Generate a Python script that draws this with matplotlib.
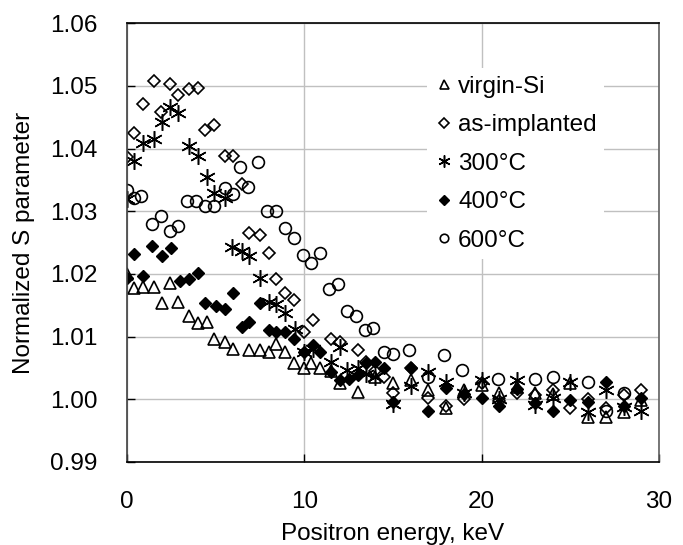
import matplotlib
matplotlib.use("Agg")
import matplotlib.pyplot as plt
from matplotlib.ticker import MultipleLocator, FormatStrFormatter

plt.rcParams['font.family'] = ['Liberation Sans', 'DejaVu Sans']

# ---- data ----
virgin_E = [0, 0.4, 0.9, 1.5, 2.0, 2.4, 2.9, 3.5, 4.0, 4.5, 4.9, 5.5, 6.0, 6.9, 7.5, 8.0,
            8.4, 8.9, 9.4, 10.0, 10.4, 10.9, 11.5, 12.0, 13.0, 14.0, 15.0, 16.0, 17.0, 18.0,
            19.0, 20.0, 21.0, 22.0, 23.0, 24.0, 25.0, 26.0, 27.0, 28.0, 29.0]
virgin_S = [1.0200, 1.0177, 1.0180, 1.0180, 1.0153, 1.0186, 1.0156, 1.0133, 1.0122, 1.0124,
            1.0096, 1.0092, 1.0081, 1.0078, 1.0078, 1.0076, 1.0089, 1.0076, 1.0058, 1.0050,
            1.0058, 1.0050, 1.0045, 1.0026, 1.0011, 1.0036, 1.0026, 1.0031, 1.0015, 0.9986,
            1.0015, 1.0023, 1.0010, 1.0020, 1.0010, 1.0008, 1.0026, 0.9972, 0.9972, 0.9980,
            0.9999]

asimp_E = [0, 0.4, 0.9, 1.5, 1.9, 2.4, 2.9, 3.5, 4.0, 4.4, 4.9, 5.5, 6.0, 6.5, 6.9, 7.5,
           8.0, 8.4, 8.9, 9.4, 10.0, 10.5, 11.5, 12.0, 13.0, 13.5, 14.0, 14.5, 15.0, 16.0,
           17.0, 18.0, 19.0, 20.0, 21.0, 22.0, 23.0, 24.0, 25.0, 26.0, 27.0, 28.0, 29.0]
asimp_S = [1.0386, 1.0425, 1.0472, 1.0508, 1.0458, 1.0503, 1.0486, 1.0495, 1.0497, 1.0430,
           1.0438, 1.0388, 1.0388, 1.0343, 1.0266, 1.0263, 1.0234, 1.0192, 1.0170, 1.0159,
           1.0107, 1.0126, 1.0096, 1.0091, 1.0078, 1.0060, 1.0045, 1.0035, 1.0010, 1.0050,
           1.0002, 0.9989, 1.0000, 1.0026, 0.9997, 1.0010, 1.0007, 1.0015, 0.9986, 1.0000,
           0.9986, 1.0007, 1.0015]

t300_E = [0, 0.4, 0.9, 1.5, 2.0, 2.4, 2.9, 3.5, 4.0, 4.5, 4.9, 5.5, 5.9, 6.5, 6.9, 7.5,
          8.0, 8.4, 8.9, 9.5, 10.0, 10.5, 11.5, 12.0, 12.4, 13.0, 13.5, 14.0, 15.0, 16.0,
          17.0, 18.0, 19.0, 20.0, 21.0, 22.0, 23.0, 24.0, 25.0, 26.0, 27.0, 28.0, 29.0]
t300_S = [1.0320, 1.0380, 1.0409, 1.0415, 1.0443, 1.0466, 1.0457, 1.0404, 1.0388, 1.0355,
          1.0330, 1.0322, 1.0243, 1.0236, 1.0228, 1.0193, 1.0156, 1.0152, 1.0138, 1.0112,
          1.0075, 1.0080, 1.0060, 1.0084, 1.0047, 1.0050, 1.0040, 1.0035, 0.9992, 1.0022,
          1.0043, 1.0027, 1.0010, 1.0031, 1.0000, 1.0031, 0.9991, 1.0002, 1.0028, 0.9980,
          1.0015, 0.9988, 0.9981]

t400_E = [0, 0.4, 0.9, 1.4, 2.0, 2.5, 3.0, 3.5, 4.0, 4.4, 5.0, 5.5, 6.0, 6.5, 6.9, 7.5,
          8.0, 8.4, 8.9, 9.4, 10.0, 10.5, 10.9, 11.5, 12.0, 12.5, 13.0, 13.5, 14.0, 14.5,
          15.0, 16.0, 17.0, 18.0, 19.0, 20.0, 21.0, 22.0, 23.0, 24.0, 25.0, 26.0, 27.0,
          28.0, 29.0]
t400_S = [1.0193, 1.0232, 1.0197, 1.0245, 1.0229, 1.0242, 1.0189, 1.0192, 1.0202, 1.0153,
          1.0149, 1.0144, 1.0169, 1.0116, 1.0124, 1.0153, 1.0110, 1.0108, 1.0108, 1.0096,
          1.0076, 1.0087, 1.0076, 1.0044, 1.0031, 1.0032, 1.0039, 1.0058, 1.0059, 1.0050,
          0.9996, 1.0050, 0.9981, 1.0018, 1.0008, 1.0002, 0.9989, 1.0016, 0.9994, 0.9981,
          0.9999, 0.9996, 1.0028, 0.9989, 1.0002]

t600_E = [0, 0.4, 0.8, 1.4, 1.9, 2.4, 2.9, 3.4, 3.9, 4.4, 4.9, 5.5, 6.0, 6.4, 6.8, 7.4,
          7.9, 8.4, 8.9, 9.4, 9.9, 10.4, 10.9, 11.4, 11.9, 12.4, 12.9, 13.4, 13.9, 14.5,
          15.0, 15.9, 17.0, 17.9, 18.9, 20.9, 23.0, 24.0, 26.0, 27.0, 28.0]
t600_S = [1.0334, 1.0321, 1.0325, 1.0279, 1.0293, 1.0269, 1.0277, 1.0317, 1.0317, 1.0309,
          1.0309, 1.0337, 1.0327, 1.0371, 1.0338, 1.0379, 1.0300, 1.0301, 1.0273, 1.0257,
          1.0230, 1.0217, 1.0233, 1.0176, 1.0184, 1.0141, 1.0133, 1.0111, 1.0114, 1.0075,
          1.0073, 1.0079, 1.0036, 1.0071, 1.0046, 1.0032, 1.0032, 1.0036, 1.0028, 0.9982,
          1.0010]

labels = ['virgin-Si', 'as-implanted', '300°C', '400°C', '600°C']

# ---- figure ----
fig = plt.figure(figsize=(6.83, 5.45), dpi=100)
ax = fig.add_axes([127/683, 83/545, 532/683, 438.7/545])

FS = 17.5
asterisk = (6, 2, 0)
ax.plot(virgin_E, virgin_S, ls='none', marker='^', ms=9, mfc='none', mec='black',
        mew=1.2, label=labels[0])
ax.plot(asimp_E, asimp_S, ls='none', marker='D', ms=6.5, mfc='none', mec='black',
        mew=1.2, label=labels[1])
ax.plot(t300_E, t300_S, ls='none', marker=asterisk, ms=12, mfc='none', mec='black',
        mew=1.1, label=labels[2])
ax.plot(t400_E, t400_S, ls='none', marker='D', ms=6.5, mfc='black', mec='black',
        mew=1.0, label=labels[3])
ax.plot(t600_E, t600_S, ls='none', marker='o', ms=8.5, mfc='none', mec='black',
        mew=1.2, label=labels[4])

ax.set_xlim(0, 30)
ax.set_ylim(0.99, 1.06)
ax.xaxis.set_major_locator(MultipleLocator(10))
ax.yaxis.set_major_locator(MultipleLocator(0.01))
ax.yaxis.set_major_formatter(FormatStrFormatter('%.2f'))
ax.grid(True, color='#c0c0c0', lw=1.0)
ax.set_axisbelow(True)
ax.tick_params(direction='in', length=6, width=1, labelsize=FS, colors='black')
ax.tick_params(axis='y', pad=21)
ax.tick_params(axis='x', pad=21)
for s in ax.spines.values():
    s.set_color('black')
    s.set_linewidth(1.2)
ax.spines['left'].set_color('#404040')
ax.spines['right'].set_color('#606060')

ax.set_xlabel('Positron energy, keV', fontsize=FS, labelpad=7)
ax.set_ylabel('Normalized S parameter', fontsize=FS, labelpad=11)

leg = ax.legend(loc='upper left', bbox_to_anchor=(0.563, 0.897), frameon=True,
                fontsize=FS, markerscale=0.72, handlelength=0.8, handletextpad=0.2,
                labelspacing=0.68, borderpad=0.3, borderaxespad=0)
leg.get_frame().set_edgecolor('none')
leg.get_frame().set_facecolor('white')
leg.get_frame().set_alpha(1.0)
leg.get_frame().set_boxstyle('square', pad=0)

fig.savefig('out.png', dpi=100)
